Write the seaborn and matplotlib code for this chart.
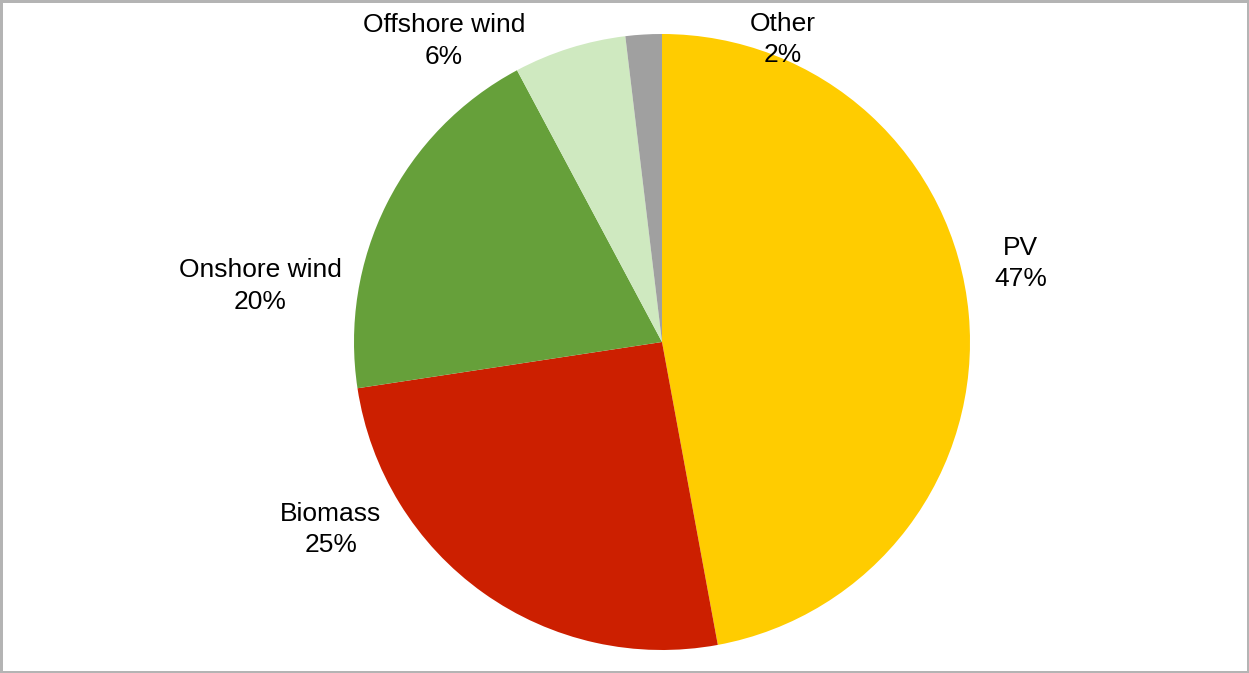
import matplotlib
matplotlib.use("Agg")
import matplotlib.pyplot as plt
import seaborn as sns

# ================================================
#  Datos
# ================================================

categorias = ["PV", "Biomass", "Onshore wind", "Offshore wind", "Other"]
valores = [47.1, 25.5, 19.6, 5.9, 1.9]
porcentajes = ["47%", "25%", "20%", "6%", "2%"]
colores = ["#FFCC00", "#CC1F00", "#66A03A", "#CFE9C0", "#A0A0A0"]

# posiciones de las etiquetas (coordenadas del eje, radio = 1)
pos_etiquetas = [(1.165, 0.255), (-1.075, -0.610), (-1.305, 0.182),
                 (-0.708, 0.977), (0.393, 0.981)]

# ================================================
#  Gráfico
# ================================================

sns.set_theme(style="white")
plt.rcParams['font.family'] = ['Liberation Sans', 'DejaVu Sans']

fig = plt.figure(figsize=(12.49, 6.73), dpi=100, facecolor="white",
                 edgecolor="#B4B4B4", linewidth=2.5)
ax = fig.add_axes([354 / 1249, 23 / 673, 616 / 1249, 616 / 673])

ax.pie(valores, colors=colores, startangle=90, counterclock=False,
       wedgeprops={'linewidth': 0})
ax.set_xlim(-1, 1)
ax.set_ylim(-1, 1)
ax.set_aspect('equal')
ax.axis('off')

# Etiquetas con nombre y porcentaje
for nombre, pct, (x, y) in zip(categorias, porcentajes, pos_etiquetas):
    ax.text(x, y, f"{nombre}\n{pct}", ha='center', va='center',
            fontsize=19, color='black', linespacing=1.38, clip_on=False)

fig.savefig("out.png", dpi=100)
